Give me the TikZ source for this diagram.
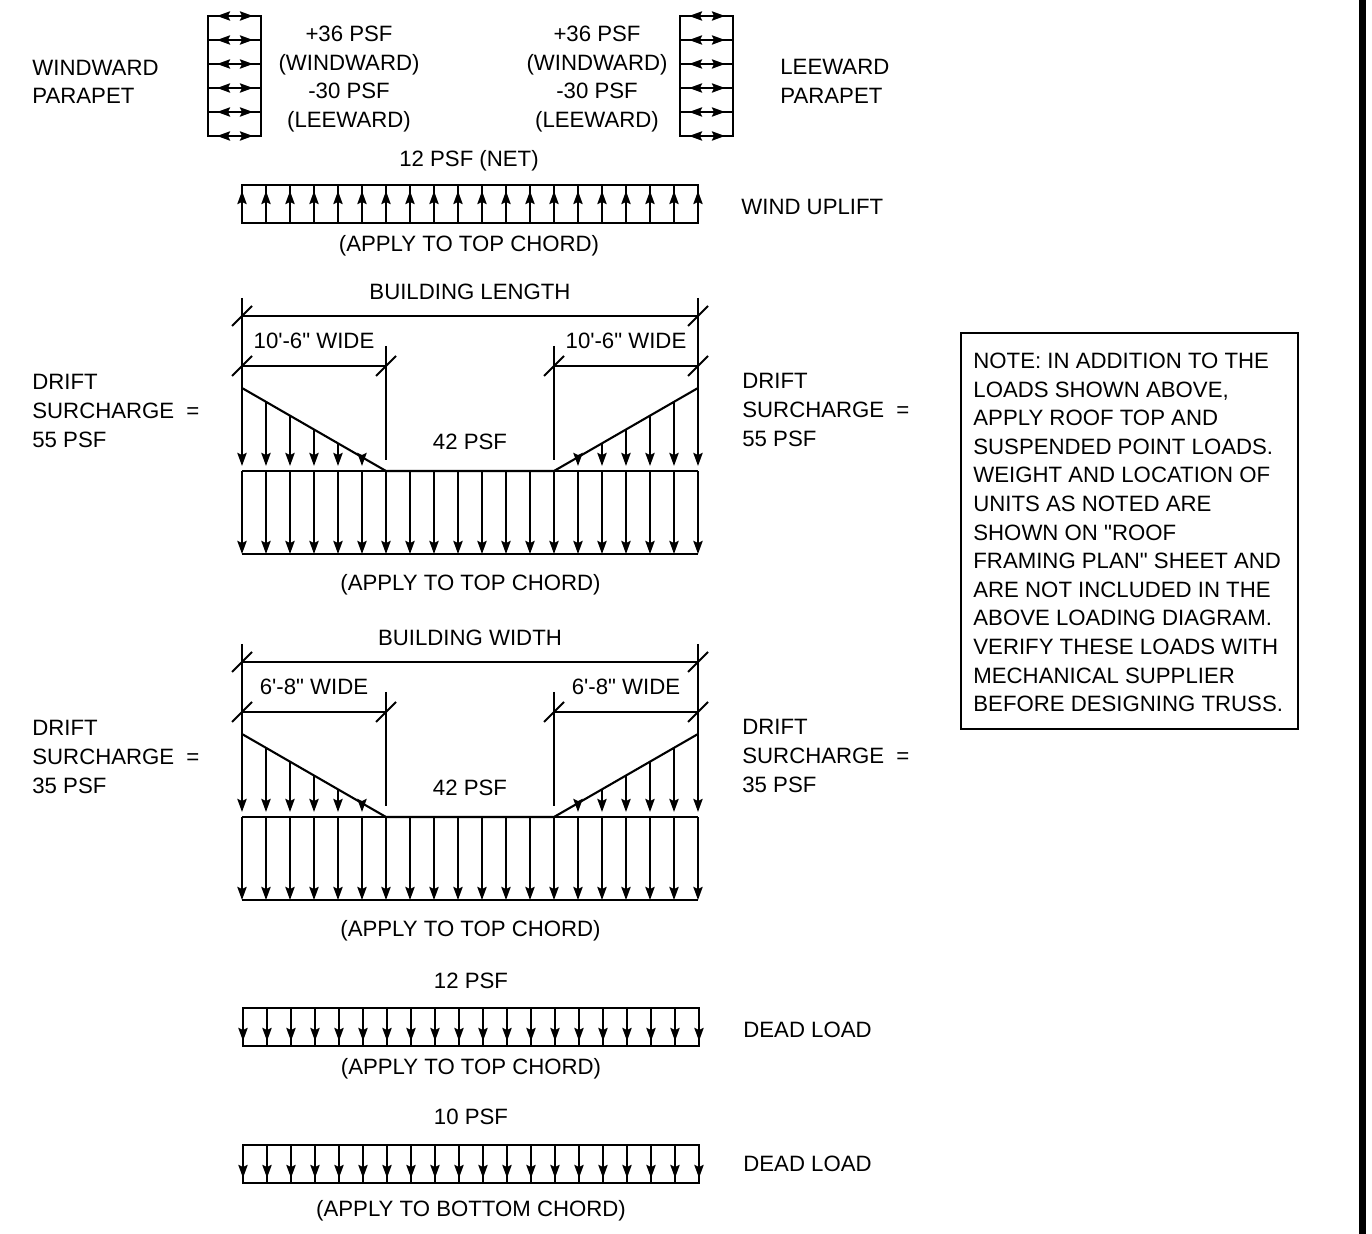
\documentclass[tikz,border=0pt]{standalone}
\usepackage{fontspec}
\setmainfont{Liberation Sans}
\usetikzlibrary{arrows.meta}
\tikzset{
  loadline/.style={line width=1.05pt},
  loadtip/.style={loadline,-{Stealth[length=6.5pt,width=4.6pt,inset=1pt]}},
  txt/.style={font=\fontsize{11.1}{14.3}\selectfont,inner sep=0pt,align=center},
  ltxt/.style={txt,align=left,anchor=west}
}

\begin{document}
\begin{tikzpicture}[x=0.5pt,y=-0.5pt]
  \useasboundingbox (0,0) rectangle (1372,1234);
  \fill (1359,0) rectangle (1366,1234);

  % parapets
  \foreach \x/\n in {208/wind, 680/lee}
  {
    \draw[loadline] (\x,16) rectangle (\x+53,136);
    \foreach \y in {16,40,64,88,112,136}
    {
      \draw[loadline] (\x,\y) -- (\x+53,\y);
      \draw[loadtip] (\x+26,\y) -- (\x+9,\y);
      \draw[loadtip] (\x+26,\y) -- (\x+45,\y);
    }
  }
  \node[ltxt] (windpar) at (32,82) {WINDWARD\\PARAPET};
  \node[txt] (windval) at (349,79) {+36 PSF\\(WINDWARD)\\-30 PSF\\(LEEWARD)};
  \node[txt] (leeval) at (597,79) {+36 PSF\\(WINDWARD)\\-30 PSF\\(LEEWARD)};
  \node[ltxt] (leepar) at (780,81.5) {LEEWARD\\PARAPET};

  % wind uplift
  \draw[loadline] (242,185) rectangle (698,223);
  \foreach \x in {242,266,...,698}
  {
    \draw[loadline] (\x,204) -- (\x,185);
    \draw[loadtip] (\x,223) -- (\x,191);
  }
  \node[txt] (netval) at (469,160.5) {12 PSF (NET)};
  \node[ltxt] (uplift) at (741,207) {WIND UPLIFT};
  \node[txt] (upapply) at (469,246) {(APPLY TO TOP CHORD)};

  % drift diagrams
  \foreach \dy/\bld/\wide/\sur/\n in {0/BUILDING LENGTH/10\textquotesingle-6\textquotedbl{} WIDE/55/a, 346/BUILDING WIDTH/6\textquotesingle-8\textquotedbl{} WIDE/35/b}
  {
    \begin{scope}[shift={(0,\dy)}]
      \draw[loadline] (242,298) -- (242,388) (698,298) -- (698,388);
      \draw[loadline] (242,316) -- (698,316);
      \draw[loadline] (242,366) -- (386,366) (554,366) -- (698,366);
      \draw[loadline] (386,346) -- (386,460) (554,346) -- (554,460);
      \foreach \x/\y in {242/316, 698/316, 242/366, 386/366, 554/366, 698/366}
        \draw[loadline] (\x-10,\y+10) -- (\x+10,\y-10);
      \draw[loadline] (242,388) -- (386,471) -- (554,471) -- (698,388);
      \draw[loadline] (242,471) -- (698,471);
      \draw[loadline] (242,554) -- (698,554);
      \foreach \x/\t in {242/388, 266/402, 290/416, 314/429, 338/443, 362/457, 578/457, 602/443, 626/429, 650/416, 674/402, 698/388}
        \draw[loadtip] (\x,\t) -- (\x,466);
      \foreach \x in {242,266,...,698}
        \draw[loadtip] (\x,471) -- (\x,554);
      \node[txt] (bld\n) at (470,292) {\bld};
      \node[txt] (widel\n) at (314,340.5) {\wide};
      \node[txt] (wider\n) at (626,340.5) {\wide};
      \node[txt] (psf\n) at (470,441.5) {42 PSF};
      \node[ltxt] (surl\n) at (32,411) {DRIFT\\SURCHARGE\hspace{3pt} =\\\sur{} PSF};
      \node[ltxt] (surr\n) at (742,410) {DRIFT\\SURCHARGE\hspace{3pt} =\\\sur{} PSF};
      \node[txt] (apply\n) at (470.5,585) {(APPLY TO TOP CHORD)};
    \end{scope}
  }

  % dead loads
  \foreach \t/\b/\h in {1008/1046/1041, 1145/1183/1178}
  {
    \draw[loadline] (243,\t) rectangle (699,\b);
    \foreach \x in {243,267,...,699}
    {
      \draw[loadtip] (\x,\t) -- (\x,\h);
      \draw[loadline] (\x,\h-2) -- (\x,\b);
    }
  }
  \node[txt] (deadtopval) at (471,981) {12 PSF};
  \node[ltxt] (deadtop) at (743,1030) {DEAD LOAD};
  \node[txt] (deadtopapply) at (471,1069) {(APPLY TO TOP CHORD)};
  \node[txt] (deadbotval) at (471,1117) {10 PSF};
  \node[ltxt] (deadbot) at (743,1164) {DEAD LOAD};
  \node[txt] (deadbotapply) at (471,1211) {(APPLY TO BOTTOM CHORD)};

  % note
  \draw[loadline] (961,333) rectangle (1298,729);
  \node[ltxt] (note) at (973,532.5) {NOTE: IN ADDITION TO THE\\LOADS SHOWN ABOVE,\\APPLY ROOF TOP AND\\SUSPENDED POINT LOADS.\\WEIGHT AND LOCATION OF\\UNITS AS NOTED ARE\\SHOWN ON \textquotedbl ROOF\\FRAMING PLAN\textquotedbl{} SHEET AND\\ARE NOT INCLUDED IN THE\\ABOVE LOADING DIAGRAM.\\VERIFY THESE LOADS WITH\\MECHANICAL SUPPLIER\\BEFORE DESIGNING TRUSS.};
\end{tikzpicture}
\end{document}
